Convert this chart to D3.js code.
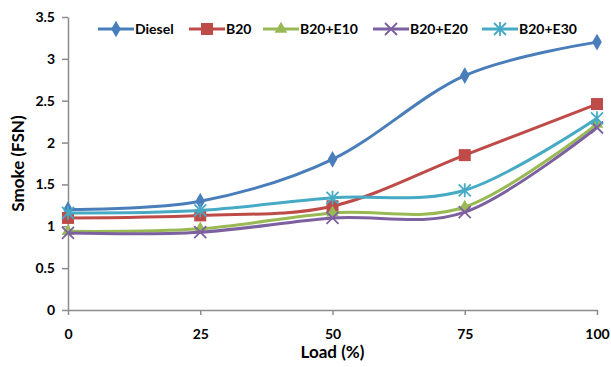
<!DOCTYPE html>
<html>
<head>
<meta charset="utf-8">
<script src="https://cdn.jsdelivr.net/npm/d3@7"></script>
<style>
  body { margin: 0; background: #fff; }
  text { font-family: Lato, "Open Sans", sans-serif; font-weight: bold; fill: #000; }
</style>
</head>
<body>
<div id="chart"></div>
<script>
// x categories (load %) and y ticks
const loads = [0, 25, 50, 75, 100]
const yTicks = [0, 0.5, 1, 1.5, 2, 2.5, 3, 3.5]

// smoke values per fuel
const diesel = [1.2, 1.3, 1.8, 2.8, 3.2]
const b20 = [1.1, 1.13, 1.24, 1.85, 2.46]
const b20e10 = [0.94, 0.97, 1.16, 1.23, 2.22]
const b20e20 = [0.92, 0.93, 1.1, 1.17, 2.18]
const b20e30 = [1.16, 1.19, 1.34, 1.43, 2.29]

const seriesNames = ['Diesel', 'B20', 'B20+E10', 'B20+E20', 'B20+E30']
const seriesValues = [diesel, b20, b20e10, b20e20, b20e30]
const colors = ['#4a7ebb', '#be4b48', '#98b954', '#7d60a0', '#46aac5']
const markers = ['diamond', 'square', 'triangle', 'x', 'star']

const width = 611
const height = 367
const plotLeft = 68, plotRight = 597, plotTop = 17, plotBottom = 310

const svg = d3.select('#chart').append('svg').attr('width', width).attr('height', height)

const xScale = d3.scaleLinear().domain([0, 100]).range([plotLeft, plotRight])
const yScale = d3.scaleLinear().domain([0, 3.5]).range([plotBottom, plotTop])

// axes
const xAxis = d3.axisBottom(xScale).tickValues(loads).tickSize(5).tickSizeOuter(0)
const yAxis = d3.axisLeft(yScale).tickValues(yTicks).tickFormat(d3.format('')).tickSize(6).tickSizeOuter(0)

const gx = svg.append('g').attr('transform', 'translate(0,' + plotBottom + ')').call(xAxis)
const gy = svg.append('g').attr('transform', 'translate(' + plotLeft + ',0)').call(yAxis)
;[gx, gy].forEach(g => {
  g.selectAll('path, line').attr('stroke', '#8c8c8c').attr('stroke-width', 1.5)
  g.selectAll('text').attr('font-size', 14).style('font-family', 'Lato, sans-serif').style('font-weight', 'bold')
})
gx.selectAll('text').attr('dy', '1.2em').attr('y', 12)
gy.selectAll('text').attr('x', -13)

// axis titles
svg.append('text').attr('x', (plotLeft + plotRight) / 2).attr('y', 358).attr('text-anchor', 'middle')
   .attr('font-size', 17).text('Load (%)')
svg.append('text').attr('transform', 'translate(24,' + ((plotTop + plotBottom) / 2) + ') rotate(-90)')
   .attr('text-anchor', 'middle').attr('font-size', 17).text('Smoke (FSN)')

// marker drawing
function drawMarker(g, type, x, y, color) {
  if (type === 'diamond') {
    g.append('path').attr('d', d3.symbol(d3.symbolDiamond, 80)()).attr('transform', 'translate(' + x + ',' + y + ')').attr('fill', color)
  } else if (type === 'square') {
    g.append('rect').attr('x', x - 6).attr('y', y - 6).attr('width', 12).attr('height', 12).attr('fill', color)
  } else if (type === 'triangle') {
    g.append('path').attr('d', d3.symbol(d3.symbolTriangle, 70)()).attr('transform', 'translate(' + x + ',' + y + ')').attr('fill', color)
  } else if (type === 'x') {
    g.append('path').attr('d', 'M-6,-6L6,6M-6,6L6,-6').attr('transform', 'translate(' + x + ',' + y + ')')
      .attr('stroke', color).attr('stroke-width', 1.8).attr('fill', 'none')
  } else {
    g.append('path').attr('d', 'M-6,-6L6,6M-6,6L6,-6M0,-7L0,7').attr('transform', 'translate(' + x + ',' + y + ')')
      .attr('stroke', color).attr('stroke-width', 1.8).attr('fill', 'none')
  }
}

const line = d3.line().x(d => xScale(d[0])).y(d => yScale(d[1])).curve(d3.curveCardinal.tension(0))

seriesValues.forEach((vals, i) => {
  const pts = loads.map((l, j) => [l, vals[j]])
  const g = svg.append('g')
  g.append('path').datum(pts).attr('d', line).attr('fill', 'none')
   .attr('stroke', colors[i]).attr('stroke-width', 3)
  pts.forEach(p => drawMarker(g, markers[i], xScale(p[0]), yScale(p[1]), colors[i]))
})

// legend
const legendX = [98, 189, 263, 373, 482]
const legendY = 29
seriesNames.forEach((name, i) => {
  const g = svg.append('g')
  g.append('line').attr('x1', legendX[i]).attr('x2', legendX[i] + 36).attr('y1', legendY).attr('y2', legendY)
   .attr('stroke', colors[i]).attr('stroke-width', 3)
  drawMarker(g, markers[i], legendX[i] + 18, legendY, colors[i])
  g.append('text').attr('x', legendX[i] + 37).attr('y', legendY + 5).attr('font-size', 14).text(name)
})
</script>
</body>
</html>
